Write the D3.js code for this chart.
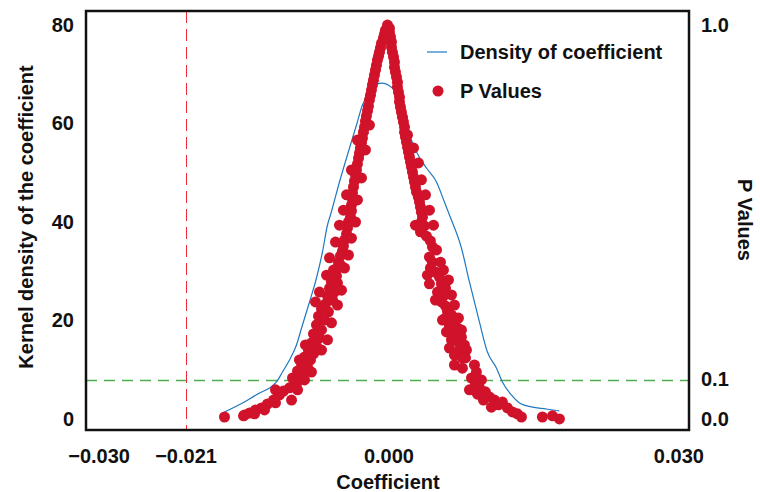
<!DOCTYPE html>
<html>
<head>
<meta charset="utf-8">
<script src="https://cdn.jsdelivr.net/npm/d3@7"></script>
<style>
  body { margin: 0; background: #fff; }
  text { font-family: "Liberation Sans", Arial, sans-serif; font-weight: bold; fill: #111; }
</style>
</head>
<body>
<div id="chart"></div>
<script>
var svgWidth = 760;
var svgHeight = 492;

// frame of the plot area
var frame = { left: 86, top: 11, right: 689, bottom: 430 };

// tick labels
var xTicks = [-0.030, -0.021, 0.000, 0.030];
var yLeftTicks = [0, 20, 40, 60, 80];
var yRightTicks = [0.0, 0.1, 1.0];

// reference lines
var coefCutoff = -0.021;
var pCutoff = 0.1;

// kernel density of the coefficient
var densityCoef = [-0.01697, -0.01510, -0.01334, -0.01231, -0.01159, -0.01097, -0.01024, -0.00952,
  -0.00890, -0.00817, -0.00745, -0.00683, -0.00631, -0.00600, -0.00507, -0.00403, -0.00331,
  -0.00269, -0.00217, -0.00166, -0.00072, 0.00041, 0.00114, 0.00166, 0.00228, 0.00290, 0.00393,
  0.00497, 0.00579, 0.00631, 0.00755, 0.00838, 0.00941, 0.01024, 0.01117, 0.01179, 0.01272,
  0.01355, 0.01479, 0.01634, 0.01769];
var densityValue = [1.42, 3.25, 5.28, 6.29, 7.51, 9.54, 11.98, 15.03,
  19.09, 23.76, 28.63, 33.91, 39.39, 41.42, 48.12, 55.03, 59.70,
  63.76, 65.79, 67.41, 68.22, 67.21, 64.77, 61.10, 57.10, 54.21, 50.96,
  48.12, 44.06, 41.42, 34.72, 27.82, 19.70, 13.60, 10.36, 7.51, 4.87,
  3.25, 2.44, 2.03, 1.62];

// p values of each estimated coefficient
var pCoef = [
  // left branch
  -0.00010, -0.00031, -0.00041, -0.00052, -0.00072, -0.00083, -0.00093, -0.00103, -0.00114, -0.00124,
  -0.00134, -0.00145, -0.00155, -0.00166, -0.00176, -0.00186, -0.00197, -0.00207, -0.00217, -0.00228,
  -0.00238, -0.00248, -0.00259, -0.00269, -0.00279, -0.00290, -0.00300, -0.00310, -0.00321, -0.00331,
  -0.00341, -0.00352, -0.00362, -0.00372, -0.00372, -0.00383, -0.00383, -0.00393, -0.00414, -0.00424,
  -0.00434, -0.00455, -0.00466, -0.00476, -0.00497, -0.00517, -0.00528, -0.00497, -0.00569, -0.00538,
  -0.00590, -0.00528, -0.00610, -0.00559, -0.00631, -0.00579, -0.00652, -0.00693, -0.00621, -0.00724,
  -0.00662, -0.00590, -0.00745, -0.00693, -0.00776, -0.00714, -0.00797, -0.00745, -0.00828, -0.00776,
  -0.00869, -0.00807, -0.00900, -0.00838, -0.00941, -0.00879, -0.00921, -0.00869, -0.00952, -0.01024,
  -0.00941, -0.01086, -0.01169, -0.01128, -0.01003, -0.01190, -0.01252, -0.01169, -0.01314, -0.01376,
  -0.01283, -0.01438, -0.01490, -0.01386, -0.01697, -0.01500,
  -0.00197, -0.00321, -0.00238, -0.00383, -0.00279, -0.00434, -0.00321, -0.00466, -0.00341, -0.00507,
  -0.00383, -0.00548, -0.00414, -0.00610, -0.00455, -0.00641, -0.00486, -0.00714, -0.00528, -0.00755,
  -0.00631, -0.00859, -0.00693, -0.00921, -0.00797, -0.00993,
  // right branch
  0.00010, 0.00010, 0.00021, 0.00031, 0.00031, 0.00041, 0.00052, 0.00062, 0.00062, 0.00072,
  0.00083, 0.00093, 0.00093, 0.00103, 0.00114, 0.00114, 0.00124, 0.00134, 0.00145, 0.00155,
  0.00166, 0.00166, 0.00176, 0.00186, 0.00197, 0.00207, 0.00217, 0.00228, 0.00238, 0.00248,
  0.00259, 0.00269, 0.00279, 0.00290, 0.00310, 0.00321, 0.00331, 0.00341, 0.00352, 0.00341,
  0.00372, 0.00331, 0.00393, 0.00434, 0.00455, 0.00424, 0.00455, 0.00434, 0.00486, 0.00528,
  0.00424, 0.00548, 0.00590, 0.00507, 0.00569, 0.00548, 0.00590, 0.00610, 0.00652, 0.00590,
  0.00683, 0.00631, 0.00714, 0.00600, 0.00683, 0.00755, 0.00724, 0.00786, 0.00734, 0.00807,
  0.00683, 0.00765, 0.00683, 0.00765, 0.00890, 0.00910, 0.00859, 0.00962, 0.00900, 0.00838,
  0.00941, 0.01003, 0.00921, 0.01045, 0.00983, 0.01097, 0.01179, 0.01065, 0.01138, 0.01231,
  0.01283, 0.01334, 0.01376, 0.01593, 0.01697, 0.01769,
  0.00197, 0.00259, 0.00310, 0.00341, 0.00383, 0.00424, 0.00279, 0.00466, 0.00497, 0.00538,
  0.00569, 0.00403, 0.00621, 0.00652, 0.00486, 0.00683, 0.00724, 0.00559, 0.00755, 0.00652,
  0.00797, 0.00631];
var pValue = [
  // left branch
  1.000, 0.987, 0.977, 0.967, 0.954, 0.942, 0.931, 0.921, 0.911, 0.898,
  0.886, 0.873, 0.860, 0.848, 0.835, 0.822, 0.810, 0.794, 0.782, 0.769,
  0.756, 0.741, 0.728, 0.713, 0.701, 0.688, 0.675, 0.662, 0.647, 0.632,
  0.619, 0.604, 0.589, 0.574, 0.558, 0.543, 0.528, 0.513, 0.500, 0.485,
  0.470, 0.454, 0.439, 0.426, 0.414, 0.398, 0.383, 0.391, 0.378, 0.363,
  0.348, 0.345, 0.332, 0.322, 0.312, 0.302, 0.292, 0.279, 0.272, 0.261,
  0.251, 0.244, 0.239, 0.226, 0.216, 0.206, 0.193, 0.185, 0.175, 0.165,
  0.157, 0.150, 0.140, 0.132, 0.122, 0.114, 0.104, 0.099, 0.089, 0.079,
  0.074, 0.071, 0.074, 0.061, 0.048, 0.048, 0.038, 0.041, 0.028, 0.023,
  0.023, 0.015, 0.010, 0.013, 0.005, 0.008,
  0.746, 0.708, 0.683, 0.632, 0.612, 0.569, 0.556, 0.530, 0.500, 0.492,
  0.459, 0.449, 0.416, 0.409, 0.383, 0.365, 0.327, 0.322, 0.289, 0.297,
  0.201, 0.188, 0.175, 0.150, 0.119, 0.104,
  // right branch
  0.992, 0.982, 0.970, 0.957, 0.944, 0.931, 0.919, 0.906, 0.893, 0.881,
  0.868, 0.855, 0.843, 0.830, 0.817, 0.805, 0.792, 0.779, 0.766, 0.754,
  0.741, 0.728, 0.716, 0.703, 0.690, 0.678, 0.665, 0.652, 0.640, 0.627,
  0.614, 0.602, 0.589, 0.576, 0.563, 0.551, 0.538, 0.525, 0.513, 0.500,
  0.490, 0.475, 0.464, 0.452, 0.437, 0.411, 0.398, 0.383, 0.373, 0.360,
  0.343, 0.343, 0.332, 0.322, 0.312, 0.297, 0.287, 0.274, 0.264, 0.256,
  0.246, 0.236, 0.231, 0.221, 0.216, 0.208, 0.195, 0.188, 0.175, 0.175,
  0.162, 0.155, 0.137, 0.129, 0.137, 0.119, 0.104, 0.099, 0.089, 0.074,
  0.079, 0.069, 0.063, 0.056, 0.048, 0.048, 0.043, 0.030, 0.036, 0.028,
  0.018, 0.013, 0.005, 0.005, 0.008, 0.000,
  0.721, 0.688, 0.650, 0.607, 0.569, 0.530, 0.492, 0.492, 0.429, 0.398,
  0.378, 0.365, 0.353, 0.315, 0.302, 0.289, 0.256, 0.251, 0.226, 0.201,
  0.155, 0.180];

var density = densityCoef.map((c, i) => ({ coef: c, value: densityValue[i] }));
var pPoints = pCoef.map((c, i) => ({ coef: c, p: pValue[i] }));

var svg = d3.select("#chart")
  .append("svg")
  .attr("width", svgWidth)
  .attr("height", svgHeight);

// Scales
var xScale = d3.scaleLinear()
  .domain([-0.0313, 0.0311])
  .range([frame.left, frame.right]);

var yLeft = d3.scaleLinear()
  .domain([-2.24, 82.85])
  .range([frame.bottom, frame.top]);

var yRight = d3.scaleLinear()
  .domain([-2.24 / 80, 82.85 / 80])
  .range([frame.bottom, frame.top]);

// Axes, no tick marks, only labels
var bottomAxis = d3.axisBottom(xScale).tickValues(xTicks).tickSize(0).tickPadding(19).tickFormat(d3.format(".3f"));
var leftAxis = d3.axisLeft(yLeft).tickValues(yLeftTicks).tickSize(0).tickPadding(12);
var rightAxis = d3.axisRight(yRight).tickValues(yRightTicks).tickSize(0).tickPadding(12).tickFormat(d3.format(".1f"));

function styleAxis(g) {
  g.select(".domain").remove();
  g.selectAll("text")
    .style("font-family", "'Liberation Sans', Arial, sans-serif")
    .style("font-weight", "bold")
    .style("font-size", "20px")
    .attr("fill", "#111");
}

svg.append("g").attr("transform", `translate(0, ${frame.bottom})`).call(bottomAxis).call(styleAxis);
svg.append("g").attr("transform", `translate(${frame.left}, 0)`).call(leftAxis).call(styleAxis);
svg.append("g").attr("transform", `translate(${frame.right}, 0)`).call(rightAxis).call(styleAxis);

// Reference lines (snapped to the pixel grid so they stay crisp)
var pLineY = Math.round(yRight(pCutoff)) + 0.5;
svg.append("line")
  .attr("x1", frame.left).attr("x2", frame.right)
  .attr("y1", pLineY).attr("y2", pLineY)
  .attr("stroke", "#4fad4f")
  .attr("stroke-width", 1.3)
  .attr("stroke-dasharray", "11,7");

var coefLineX = Math.round(xScale(coefCutoff)) + 0.5;
svg.append("line")
  .attr("x1", coefLineX).attr("x2", coefLineX)
  .attr("y1", frame.top).attr("y2", frame.bottom)
  .attr("stroke", "#ee2a36")
  .attr("stroke-width", 1)
  .attr("stroke-dasharray", "12,6");

// Density line
var line = d3.line()
  .x(d => xScale(d.coef))
  .y(d => yLeft(d.value))
  .curve(d3.curveMonotoneX);

svg.append("path")
  .datum(density)
  .attr("fill", "none")
  .attr("stroke", "#1f78c1")
  .attr("stroke-width", 1.2)
  .attr("d", line);

// P value dots
svg.append("g")
  .selectAll("circle")
  .data(pPoints)
  .enter()
  .append("circle")
  .attr("cx", d => xScale(d.coef))
  .attr("cy", d => yRight(d.p))
  .attr("r", 5.5)
  .attr("fill", "#d0122a");

// Frame
svg.append("rect")
  .attr("x", frame.left).attr("y", frame.top)
  .attr("width", frame.right - frame.left)
  .attr("height", frame.bottom - frame.top)
  .attr("fill", "none")
  .attr("stroke", "#111")
  .attr("stroke-width", 2.5);

// Legend
var legend = svg.append("g");
legend.append("line")
  .attr("x1", 427).attr("x2", 447).attr("y1", 52).attr("y2", 52)
  .attr("stroke", "#1f78c1").attr("stroke-width", 1.2);
legend.append("text")
  .attr("x", 460).attr("y", 52).attr("dy", "0.35em")
  .style("font-size", "20px")
  .text("Density of coefficient");
legend.append("circle")
  .attr("cx", 438).attr("cy", 91).attr("r", 5.5)
  .attr("fill", "#d0122a");
legend.append("text")
  .attr("x", 460).attr("y", 91).attr("dy", "0.35em")
  .style("font-size", "20px")
  .text("P Values");

// Axis titles
svg.append("text")
  .attr("transform", "translate(26, 217) rotate(-90)")
  .attr("text-anchor", "middle")
  .attr("dy", "0.35em")
  .style("font-size", "20px")
  .text("Kernel density of the coefficient");

svg.append("text")
  .attr("transform", "translate(745, 220) rotate(90)")
  .attr("text-anchor", "middle")
  .attr("dy", "0.35em")
  .style("font-size", "20px")
  .text("P Values");

svg.append("text")
  .attr("x", 388).attr("y", 482)
  .attr("text-anchor", "middle")
  .attr("dy", "0.35em")
  .style("font-size", "20px")
  .text("Coefficient");
</script>
</body>
</html>
